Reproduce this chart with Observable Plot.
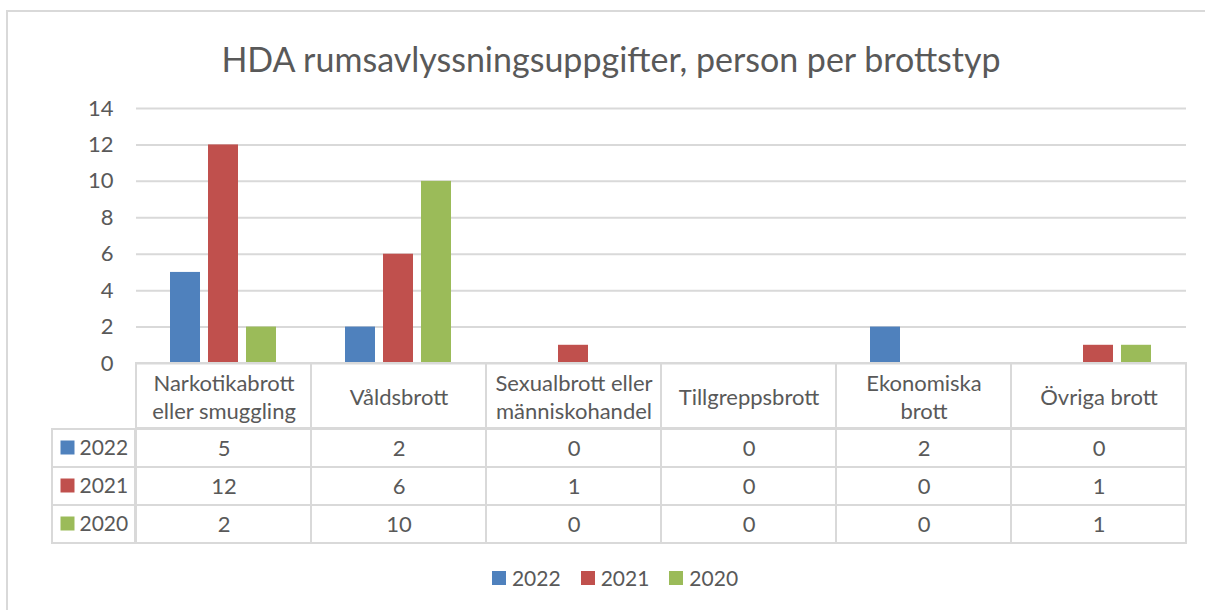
<!DOCTYPE html>
<html>
<head>
<meta charset="utf-8">
<script src="https://cdn.jsdelivr.net/npm/d3@7"></script>
<script src="https://cdn.jsdelivr.net/npm/@observablehq/plot@0.6"></script>
<style>
  html, body { margin: 0; padding: 0; background: #fff; overflow: hidden; }
  #wrap { position: relative; width: 1205px; height: 610px; overflow: hidden; background: #fff; font-family: Lato, "Open Sans", sans-serif; color: #595959; }
  #border { position: absolute; left: 6px; top: 10px; width: 1199px; height: 600px; border-left: 2px solid #d9d9d9; border-top: 2px solid #d9d9d9; box-sizing: border-box; }
  #title { position: absolute; left: 0; width: 1222px; top: 37px; text-align: center; font-size: 34px; font-weight: 400; line-height: 44px; white-space: nowrap; }
  .abs { position: absolute; }
  #legend { position: absolute; top: 564px; left: 0; width: 1230px; display: flex; justify-content: center; font-size: 21px; line-height: 28px; }
  .item { display: flex; align-items: center; margin-right: 20px; }
  .item:last-child { margin-right: 0; }
  .sw { width: 14px; height: 14px; margin-right: 6px; }
</style>
</head>
<body>
<div id="wrap">
  <div id="border"></div>
  <div id="title">HDA rumsavlyssningsuppgifter, person per brottstyp</div>
</div>
<script>
// ---- data ----
const categories = ["Narkotikabrott eller smuggling", "Våldsbrott", "Sexualbrott eller människohandel", "Tillgreppsbrott", "Ekonomiska brott", "Övriga brott"];
const headerLabels = ["Narkotikabrott\neller smuggling", "Våldsbrott", "Sexualbrott eller\nmänniskohandel", "Tillgreppsbrott", "Ekonomiska\nbrott", "Övriga brott"];
const years = ["2022", "2021", "2020"];
const values2022 = [5, 2, 0, 0, 2, 0];
const values2021 = [12, 6, 1, 0, 0, 1];
const values2020 = [2, 10, 0, 0, 0, 1];
const colors = ["#4f81bd", "#c0504d", "#9bbb59"];
const yTicks = [0, 2, 4, 6, 8, 10, 12, 14];

const seriesValues = {"2022": values2022, "2021": values2021, "2020": values2020};
const rows = years.flatMap(y => categories.map((c, i) => ({category: c, year: y, value: seriesValues[y][i]})));

const wrap = document.getElementById("wrap");
const font = "Lato, 'Open Sans', sans-serif";
const grey = "#d9d9d9";
const textColor = "#595959";
const fs = 22;

function place(el, left, top) {
  el.classList.add("abs");
  el.style.left = left + "px";
  el.style.top = top + "px";
  wrap.appendChild(el);
  return el;
}

// ---- bar chart ----
const chart = Plot.plot({
  width: 1205,
  height: 274,
  marginTop: 18,
  marginBottom: 1,
  marginLeft: 135,
  marginRight: 18,
  style: {fontFamily: font, fontSize: fs + "px", color: textColor, background: "transparent", overflow: "visible"},
  fx: {domain: categories, padding: 0, axis: null, label: null},
  x: {domain: years, paddingInner: 0.205, paddingOuter: 0.85, axis: null},
  y: {domain: [0, 14], label: null},
  color: {domain: years, range: colors},
  marks: [
    Plot.gridY(yTicks, {stroke: grey, strokeOpacity: 1, strokeWidth: 2}),
    Plot.axisY(yTicks, {tickSize: 0, tickPadding: 23, label: null, fontSize: fs, tickFormat: d => String(d)}),
    Plot.barY(rows, {fx: "category", x: "year", y: "value", fill: "year"})
  ]
});
place(chart, 0, 90);

// ---- data table: header ----
const header = Plot.plot({
  width: 1205,
  height: 67,
  marginTop: 1,
  marginBottom: 1,
  marginLeft: 135,
  marginRight: 18,
  style: {fontFamily: font, fontSize: fs + "px", color: textColor, background: "transparent", overflow: "visible"},
  x: {domain: categories, padding: 0, axis: null},
  marks: [
    Plot.cell(categories, {x: d => d, fill: "none", stroke: grey, strokeWidth: 2}),
    Plot.text(categories, {x: d => d, text: (d, i) => headerLabels[i], fontSize: fs, lineHeight: 1.27, fill: textColor})
  ]
});
place(header, 0, 362);

// ---- data table: body ----
const body = Plot.plot({
  width: 1205,
  height: 117,
  marginTop: 1,
  marginBottom: 1,
  marginLeft: 135,
  marginRight: 18,
  style: {fontFamily: font, fontSize: fs + "px", color: textColor, background: "transparent", overflow: "visible"},
  x: {domain: categories, padding: 0, axis: null},
  y: {domain: years, padding: 0, axis: null},
  marks: [
    Plot.cell(rows, {x: "category", y: "year", fill: "none", stroke: grey, strokeWidth: 2}),
    Plot.text(rows, {x: "category", y: "year", text: d => String(d.value), fontSize: fs, fill: textColor})
  ]
});
place(body, 0, 427);

// ---- data table: legend keys column ----
const keys = Plot.plot({
  width: 86,
  height: 117,
  marginTop: 1,
  marginBottom: 1,
  marginLeft: 1,
  marginRight: 2,
  style: {fontFamily: font, fontSize: fs + "px", color: textColor, background: "transparent", overflow: "visible"},
  y: {domain: years, padding: 0, axis: null},
  color: {domain: years, range: colors},
  marks: [
    Plot.cell(years, {y: d => d, fill: "none", stroke: grey, strokeWidth: 2}),
    Plot.dot(years, {y: d => d, fill: d => d, symbol: "square", r: 7.9, frameAnchor: "left", dx: 15, dy: -1}),
    Plot.text(years, {y: d => d, text: d => d, frameAnchor: "left", textAnchor: "start", dx: 27, fontSize: 21, fill: textColor})
  ]
});
place(keys, 51, 427);

// ---- legend below ----
const colorScale = chart.scale("color");
const legend = document.createElement("div");
legend.id = "legend";
colorScale.domain.forEach((y, i) => {
  const item = document.createElement("div");
  item.className = "item";
  const sw = document.createElement("div");
  sw.className = "sw";
  sw.style.background = colorScale.range[i];
  const label = document.createElement("span");
  label.textContent = y;
  item.appendChild(sw);
  item.appendChild(label);
  legend.appendChild(item);
});
wrap.appendChild(legend);
</script>
</body>
</html>
